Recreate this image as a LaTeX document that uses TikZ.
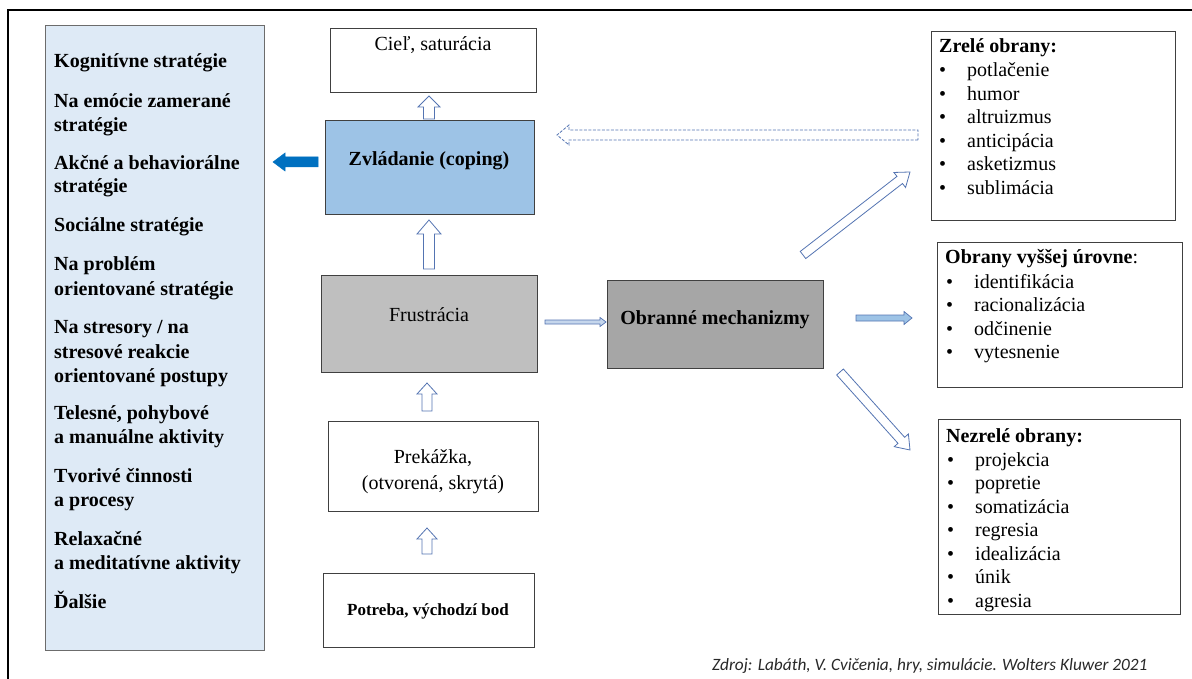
\documentclass[tikz,border=0pt]{standalone}
\usepackage{fontspec}
\setmainfont{Liberation Serif}
\usetikzlibrary{calc}
\definecolor{arrowblue}{RGB}{84,116,178}
\definecolor{panelfill}{RGB}{222,234,246}
\definecolor{zvlfill}{RGB}{157,195,230}
\definecolor{frufill}{RGB}{191,191,191}
\definecolor{obrfill}{RGB}{166,166,166}
\definecolor{solidblue}{RGB}{0,112,192}
\definecolor{boxline}{RGB}{64,64,64}
\definecolor{lightarrow}{RGB}{197,214,236}
\definecolor{captxt}{RGB}{40,40,40}
% block arrow: #1 style, #2 from, #3 to, #4 shaft half width, #5 head half width, #6 head length
\newcommand\blockarr[6]{%
  \coordinate (ba-h) at ($(#3)!#6!(#2)$);
  \draw[#1] ($(#2)!#4!90:(#3)$) -- ($(ba-h)!#4!90:(#3)$) -- ($(ba-h)!#5!90:(#3)$) -- (#3)
    -- ($(ba-h)!#5!-90:(#3)$) -- ($(ba-h)!#4!-90:(#3)$) -- ($(#2)!#4!-90:(#3)$) -- cycle;}
\tikzset{
  box/.style={draw=boxline, line width=0.9pt, anchor=north west, inner sep=0pt},
  f20/.style={font=\fontsize{20}{24}\selectfont, inner sep=0pt},
  f20b/.style={font=\fontsize{20}{24}\selectfont\bfseries, inner sep=0pt},
  hollow/.style={draw=arrowblue, line width=0.8pt, fill=white, line join=miter},
}
\begin{document}
\begin{tikzpicture}[x=1pt,y=-1pt]
\useasboundingbox (0,0) rectangle (1192,679);
% outer frame
\draw[line width=2pt, black] (8,690) -- (8,10) -- (1200,10);

% left panel
\node[box, draw=gray!85!black, fill=panelfill, minimum width=219pt, minimum height=625pt] (panel) at (45,25) {};
\foreach \y/\t [count=\i] in {68/{Kognitívne stratégie},
  108/{Na emócie zamerané}, 132/{stratégie},
  170/{Akčné a behaviorálne}, 193/{stratégie},
  232/{Sociálne stratégie},
  271/{Na problém}, 295/{orientované stratégie},
  334/{Na stresory / na}, 358/{stresové reakcie}, 382/{orientované postupy},
  419/{Telesné, pohybové}, 443/{a manuálne aktivity},
  482/{Tvorivé činnosti}, 506/{a procesy},
  545/{Relaxačné}, 569/{a meditatívne aktivity},
  608/{Ďalšie}}
  \node[f20b, anchor=base west] (L\i) at (54,\y) {\t};

% central boxes
\node[box, minimum width=206pt, minimum height=64pt] (ciel) at (330,28) {};
\node[f20, anchor=base] (cielT) at (433,51) {Cieľ, saturácia};

\node[box, fill=zvlfill, minimum width=209pt, minimum height=94pt] (zvl) at (325,120) {};
\node[f20b, anchor=base] (zvlT) at (429,166) {Zvládanie (coping)};

\node[box, fill=frufill, minimum width=216pt, minimum height=97pt] (fru) at (321,275) {};
\node[f20, anchor=base] (fruT) at (429,321) {Frustrácia};

\node[box, fill=obrfill, minimum width=216pt, minimum height=88pt] (obr) at (607,280) {};
\node[f20b, anchor=base] (obrT) at (715,324) {Obranné mechanizmy};

\node[box, minimum width=210pt, minimum height=90pt] (pre) at (328,421) {};
\node[f20, anchor=base] (preT1) at (433,463) {Prekážka,};
\node[f20, anchor=base] (preT2) at (433,489) {(otvorená, skrytá)};

\node[box, minimum width=211pt, minimum height=74pt] (pot) at (323,573) {};
\node[font=\fontsize{17}{20}\selectfont\bfseries, inner sep=0pt, anchor=base] (potT) at (428,615) {Potreba, východzí bod};

% right boxes
\node[box, minimum width=244pt, minimum height=189pt] (zre) at (931,31) {};
\node[f20b, anchor=base west] (zreT) at (939,53) {Zrelé obrany:};
\foreach \y/\t [count=\i] in {77/potlačenie, 100.5/humor, 124/altruizmus, 147.5/anticipácia, 171/asketizmus, 194.5/sublimácia}{
  \node[f20, anchor=base west] (zreB\i) at (939,\y) {•};
  \node[f20, anchor=base west] (zreI\i) at (967,\y) {\t};
}

\node[box, minimum width=245pt, minimum height=145pt] (vys) at (937,242) {};
\node[f20, anchor=base west] (vysT) at (945,264) {\textbf{Obrany vyššej úrovne}:};
\foreach \y/\t [count=\i] in {288/identifikácia, 311.5/racionalizácia, 335/odčinenie, 358.5/vytesnenie}{
  \node[f20, anchor=base west] (vysB\i) at (946,\y) {•};
  \node[f20, anchor=base west] (vysI\i) at (974,\y) {\t};
}

\node[box, minimum width=242pt, minimum height=195pt] (nez) at (938,419) {};
\node[f20b, anchor=base west] (nezT) at (946,442) {Nezrelé obrany:};
\foreach \y/\t [count=\i] in {466/projekcia, 489.5/popretie, 513/somatizácia, 536.5/regresia, 560/idealizácia, 583.5/únik, 607/agresia}{
  \node[f20, anchor=base west] (nezB\i) at (947,\y) {•};
  \node[f20, anchor=base west] (nezI\i) at (975,\y) {\t};
}

% arrows
\coordinate (a1s) at (429,119); \coordinate (a1e) at (429,96);
\coordinate (a2s) at (429,269); \coordinate (a2e) at (429,220);
\coordinate (a3s) at (427,411); \coordinate (a3e) at (427,383);
\coordinate (a4s) at (427,554); \coordinate (a4e) at (427,528);
\blockarr{hollow}{a1s}{a1e}{5.5pt}{11pt}{11pt}
\blockarr{hollow}{a2s}{a2e}{5.5pt}{12pt}{14pt}
\blockarr{hollow}{a3s}{a3e}{5pt}{10pt}{11pt}
\blockarr{hollow}{a4s}{a4e}{5pt}{10pt}{11pt}

\coordinate (b1s) at (318,162); \coordinate (b1e) at (273,162);
\blockarr{draw=solidblue, fill=solidblue, line width=0.5pt}{b1s}{b1e}{5pt}{9pt}{12pt}

\coordinate (c1s) at (918,135); \coordinate (c1e) at (557,135);
\blockarr{hollow, dash pattern=on 3pt off 1.5pt}{c1s}{c1e}{5pt}{10pt}{12pt}

\coordinate (d1s) at (545,322); \coordinate (d1e) at (606,322);
\blockarr{hollow, fill=lightarrow, line width=0.7pt}{d1s}{d1e}{2pt}{4.5pt}{6pt}

\coordinate (e1s) at (856,318); \coordinate (e1e) at (912,318);
\blockarr{hollow, fill=zvlfill, line width=0.7pt}{e1s}{e1e}{3pt}{6.5pt}{8pt}

\coordinate (f1s) at (803,255); \coordinate (f1e) at (910,172);
\blockarr{hollow}{f1s}{f1e}{4.5pt}{9.5pt}{13pt}
\coordinate (g1s) at (840,372); \coordinate (g1e) at (910,450);
\blockarr{hollow}{g1s}{g1e}{4.5pt}{9.5pt}{13pt}

% caption
\node[font=\fontspec{Carlito}\fontsize{17.3}{20}\selectfont\itshape, text=captxt, inner sep=0pt, anchor=base west] (src) at (712,670) {Zdroj: Labáth, V. Cvičenia, hry, simulácie. Wolters Kluwer 2021};
\end{tikzpicture}
\end{document}
